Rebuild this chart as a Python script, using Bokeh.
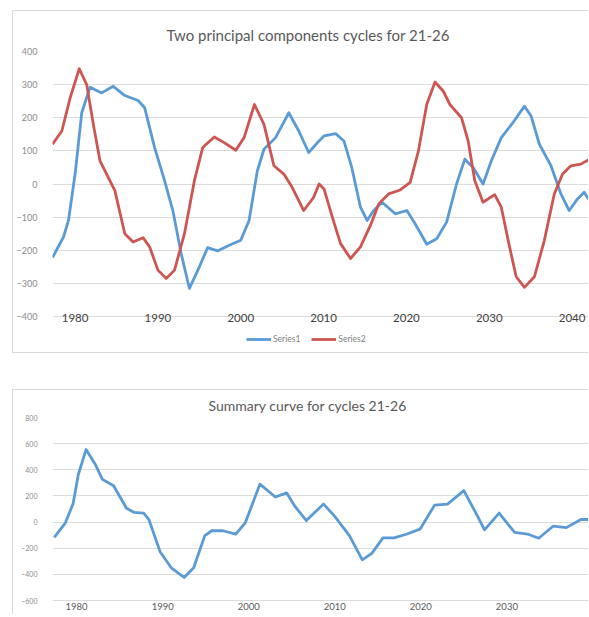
from bokeh.plotting import figure
from bokeh.models import Legend, LegendItem, FixedTicker
from bokeh.layouts import column
from bokeh.embed import file_html
from bokeh.resources import INLINE

# ---- Chart 1 data: two principal components ----
s1_years = [1977.27, 1978.6, 1979.2, 1980.0, 1980.8, 1981.8, 1983.2, 1984.6, 1986.0, 1987.6,
            1988.4, 1989.6, 1990.8, 1991.8, 1992.8, 1993.8, 1995.0, 1996.0, 1997.2, 1998.6,
            2000.0, 2001.0, 2002.0, 2002.8, 2004.2, 2005.8, 2007.0, 2008.2, 2009.45, 2010.05,
            2011.45, 2012.45, 2013.4, 2014.45, 2015.25, 2016.05, 2017.05, 2018.65, 2020.05, 2021.05,
            2022.45, 2023.65, 2024.85, 2026.05, 2027.05, 2028.05, 2029.25, 2030.25, 2031.45, 2032.85,
            2034.25, 2035.05, 2036.05, 2037.45, 2038.65, 2039.65, 2040.65, 2041.45, 2042.1]
s1_vals = [-222, -160, -110, 30, 215, 292, 275, 295, 267, 252,
           230, 110, 10, -80, -210, -315, -250, -192, -202, -185,
           -170, -110, 40, 105, 140, 215, 160, 95, 130, 145,
           152, 130, 50, -70, -110, -80, -55, -90, -80, -120,
           -182, -165, -115, 0, 75, 50, 0, 70, 140, 185,
           235, 205, 120, 55, -30, -80, -45, -25, -50]

s2_years = [1977.27, 1978.4, 1979.4, 1980.5, 1981.4, 1982.2, 1983.0, 1984.0, 1984.8, 1986.0,
            1987.0, 1988.2, 1989.0, 1990.0, 1991.0, 1992.0, 1993.2, 1994.4, 1995.4, 1996.8,
            1998.0, 1999.4, 2000.4, 2001.65, 2002.8, 2004.0, 2005.2, 2006.2, 2007.6, 2008.8,
            2009.45, 2010.05, 2011.05, 2012.05, 2013.25, 2014.45, 2015.65, 2016.65, 2017.85, 2019.25,
            2020.45, 2021.45, 2022.45, 2023.45, 2024.45, 2025.25, 2026.65, 2027.45, 2028.25, 2029.25,
            2030.65, 2031.45, 2032.45, 2033.25, 2034.25, 2035.45, 2036.65, 2037.85, 2038.85, 2039.85,
            2041.05, 2042.1]
s2_vals = [120, 160, 260, 348, 300, 180, 70, 20, -20, -150,
           -175, -162, -190, -260, -285, -260, -150, 10, 110, 142,
           125, 102, 140, 240, 180, 55, 30, -10, -80, -40,
           0, -15, -100, -180, -225, -190, -125, -60, -30, -18,
           5, 100, 240, 308, 280, 240, 200, 130, 10, -55,
           -32, -70, -190, -280, -312, -280, -170, -30, 30, 55,
           60, 75]

# ---- Chart 2 data: summary curve ----
sum_years = [1977.4, 1978.7, 1979.6, 1980.2, 1981.1, 1982.2, 1983.0, 1984.3, 1985.8, 1986.7,
             1987.8, 1988.4, 1989.7, 1991.0, 1992.5, 1993.6, 1994.9, 1995.7, 1997.0, 1998.5,
             1999.6, 2001.3, 2003.1, 2004.4, 2005.4, 2006.7, 2007.6, 2008.7, 2010.0, 2011.7,
             2013.2, 2014.3, 2015.6, 2016.9, 2018.4, 2019.9, 2021.6, 2023.1, 2025.0, 2026.6,
             2027.4, 2029.1, 2030.9, 2032.4, 2033.7, 2035.4, 2036.9, 2038.6, 2039.6]
sum_vals = [-116, -5, 143, 364, 555, 438, 327, 278, 106, 74,
            69, 20, -226, -349, -423, -349, -103, -66, -66, -91,
            -5, 290, 192, 224, 118, 12, 69, 138, 44, -103,
            -288, -239, -120, -120, -91, -54, 130, 138, 241, 44,
            -59, 69, -79, -91, -123, -30, -42, 20, 20]

x_ticks = [1980, 1990, 2000, 2010, 2020, 2030, 2040]
y_ticks1 = [-400, -300, -200, -100, 0, 100, 200, 300, 400]
y_ticks2 = [-600, -400, -200, 0, 200, 400, 600, 800]

BLUE = "#5B9BD5"
RED = "#CD5552"
FONT = "Lato"


def style(p, yt, ylab_size, xlab_size):
    p.outline_line_color = None
    p.xgrid.visible = False
    p.ygrid.grid_line_color = "#DCDCDC"
    p.ygrid.grid_line_width = 1
    p.xaxis.ticker = FixedTicker(ticks=x_ticks)
    p.yaxis.ticker = FixedTicker(ticks=yt)
    for ax in (p.xaxis, p.yaxis):
        ax.axis_line_color = None
        ax.major_tick_line_color = None
        ax.minor_tick_line_color = None
        ax.major_label_text_font = FONT
    p.yaxis.major_label_text_font_size = ylab_size
    p.yaxis.major_label_text_color = "#8C8C8C"
    p.xaxis.major_label_text_font_size = xlab_size
    p.xaxis.major_label_text_color = "#404040"
    p.title.align = "left"
    p.title.text_font = FONT
    p.title.text_font_style = "normal"
    p.title.text_color = "#595959"


# frame runs down to the chart-box bottom; the x axis sits on the -400 line
p1 = figure(width=576, height=343, x_range=(1977.27, 2042.1), y_range=(-514.7, 400),
            output_backend="svg", toolbar_location=None,
            min_border_left=36, min_border_right=0, min_border_top=40, min_border_bottom=0,
            title="Two principal components cycles for  21-26")
style(p1, y_ticks1, "9px", "11.5px")
p1.title.text_font_size = "15px"
p1.title.vertical_align = "top"
p1.title.standoff = 11
p1.title.offset = 114
p1.xaxis.fixed_location = -400
p1.xaxis.major_label_standoff = -9
p1.yaxis.major_label_standoff = 9
r1 = p1.line(s1_years, s1_vals, color=BLUE, line_width=2.8, line_join="round")
r2 = p1.line(s2_years, s2_vals, color=RED, line_width=2.8, line_join="round")
leg = Legend(items=[LegendItem(label="Series1", renderers=[r1]),
                    LegendItem(label="Series2", renderers=[r2])],
             orientation="horizontal", location=(194, 10),
             glyph_width=25, glyph_height=8, label_height=10,
             label_text_font_size="8.5px", label_text_font=FONT,
             label_text_color="#7F7F7F", label_standoff=2, spacing=11,
             padding=4, margin=0,
             border_line_color=None, background_fill_alpha=0)
p1.add_layout(leg)
p1.margin = (10, 0, 0, 12)
p1.styles = {"border-left": "1px solid #D9D9D9", "border-top": "1px solid #D9D9D9",
             "border-bottom": "1px solid #D9D9D9"}

# frame runs to the page bottom; the x axis sits on the -600 line
p2 = figure(width=576, height=225, x_range=(1977.2, 2039.6), y_range=(-714, 800),
            output_backend="svg", toolbar_location=None,
            min_border_left=34, min_border_right=0, min_border_top=26, min_border_bottom=0,
            title="Summary curve for cycles 21-26")
style(p2, y_ticks2, "7px", "9.5px")
p2.xaxis.major_label_text_color = "#595959"
p2.xaxis.fixed_location = -600
p2.title.text_font_size = "14px"
p2.title.standoff = 8
p2.title.offset = 156
p2.xaxis.major_label_standoff = -4
p2.yaxis.major_label_standoff = 9
p2.line(sum_years, sum_vals, color=BLUE, line_width=2.8, line_join="round")
p2.margin = (36, 0, 0, 12)
p2.styles = {"border-left": "1px solid #D9D9D9", "border-top": "1px solid #D9D9D9"}

layout = column(p1, p2, spacing=0)
open("out.html", "w").write(file_html(layout, INLINE))
